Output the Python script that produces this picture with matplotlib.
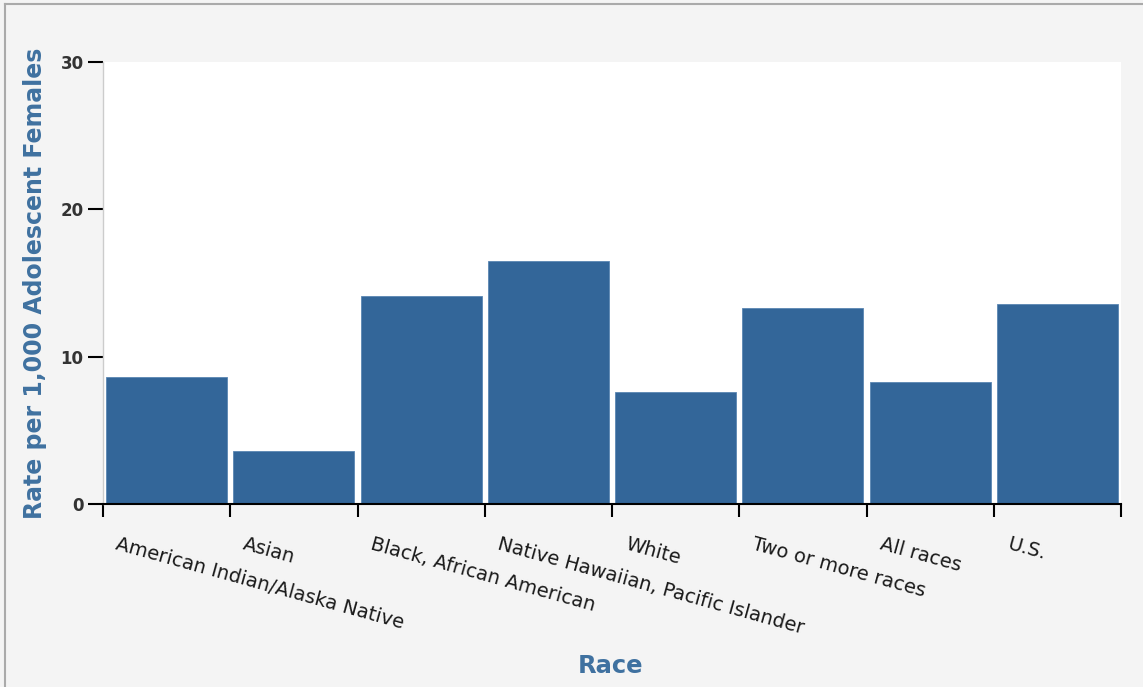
import matplotlib
matplotlib.use('Agg')
import matplotlib.pyplot as plt
import matplotlib.transforms as mtransforms
from matplotlib.lines import Line2D

# data
races = ['American Indian/Alaska Native', 'Asian', 'Black, African American',
         'Native Hawaiian, Pacific Islander', 'White', 'Two or more races',
         'All races', 'U.S.']
rates = [8.6, 3.6, 14.1, 16.5, 7.6, 13.3, 8.3, 13.6]
yticks = [0, 10, 20, 30]

bar_color = '#336699'
label_color = '#3f71a0'

fig = plt.figure(figsize=(11.43, 6.87), dpi=100)
fig.patch.set_facecolor('#f4f4f4')
ax = fig.add_axes([0.0901, 0.2664, 0.8907, 0.6434])
ax.set_facecolor('white')

xs = [i + 0.5 for i in range(len(races))]
ax.bar(xs, rates, width=0.95, color=bar_color, edgecolor='#5a86b3', linewidth=0.6)

ax.set_xlim(0, len(races))
ax.set_ylim(0, 30)

ax.set_yticks(yticks)
ax.set_yticklabels([str(t) for t in yticks], fontsize=12, fontweight='bold', color='#333333')
ax.set_xticks(range(len(races) + 1))
ax.set_xticklabels([])
ax.tick_params(axis='y', length=11, width=1.5, color='black', pad=3)
ax.tick_params(axis='x', length=9, width=1.5, color='black')

for s in ['top', 'right']:
    ax.spines[s].set_visible(False)
ax.spines['left'].set_color('#cccccc')
ax.spines['left'].set_linewidth(1)
ax.spines['bottom'].set_color('black')
ax.spines['bottom'].set_linewidth(1.5)

# rotated category labels hanging from the left tick of each band
off = mtransforms.ScaledTranslation(0.16, 0, fig.dpi_scale_trans)
trans = ax.get_xaxis_transform() + off
for i, name in enumerate(races):
    ax.text(i, -0.07, name, transform=trans, rotation=-15.5, rotation_mode='anchor',
            ha='left', va='top', fontsize=14, color='#1a1a1a')

fig.text(0.031, 0.588, 'Rate per 1,000 Adolescent Females', rotation=90,
         ha='center', va='center', fontsize=17, fontweight='bold', color=label_color)
fig.text(0.5345, 0.031, 'Race', ha='center', va='center', fontsize=17.5,
         fontweight='bold', color=label_color)

# frame lines of the panel
fig.add_artist(Line2D([0.0044, 0.0044], [0, 0.994], transform=fig.transFigure,
                      color='#aaaaaa', linewidth=1.5))
fig.add_artist(Line2D([0.0044, 1], [0.994, 0.994], transform=fig.transFigure,
                      color='#aaaaaa', linewidth=1.5))

fig.savefig('out.png', dpi=100, facecolor=fig.get_facecolor())
